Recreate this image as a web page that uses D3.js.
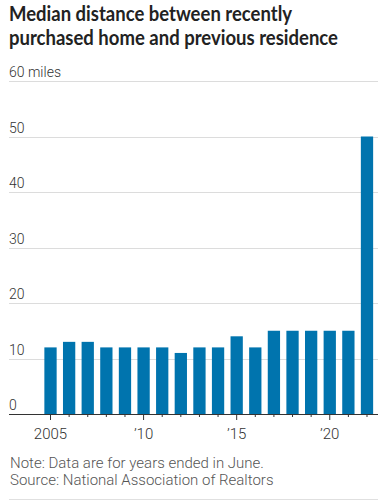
<!DOCTYPE html>
<html>
<head>
<meta charset="utf-8">
<script src="https://cdn.jsdelivr.net/npm/d3@7"></script>
<style>
  html, body { margin: 0; padding: 0; background: #fff; }
  svg { display: block; }
</style>
</head>
<body>
<svg id="chart" width="381" height="500"></svg>
<script>
const years = [2005,2006,2007,2008,2009,2010,2011,2012,2013,2014,2015,2016,2017,2018,2019,2020,2021,2022];
const distances = [12,13,13,12,12,12,12,11,12,12,14,12,15,15,15,15,15,50];
const yTicks = [0,10,20,30,40,50,60];
const xLabelYears = [2005,2010,2015,2020];
const xLabelText = ["2005","\u201910","\u201915","\u201920"];

const titleLines = ["Median distance between recently", "purchased home and previous residence"];
const titleWidths = [283, 329];
const noteLines = ["Note: Data are for years ended in June.", "Source: National Association of Realtors"];

const svg = d3.select("#chart");
const W = 381, H = 500;
const left = 9, right = 378;

const y = d3.scaleLinear().domain([0, 60]).range([414, 81]);
const x = d3.scaleBand().domain(years).range([41.2, 376.3]).paddingInner(0.34).paddingOuter(0.17);

const titleFont = "Lato, 'Noto Sans', sans-serif";
const bodyFont = "Roboto, 'Noto Sans', sans-serif";

// Title
svg.append("g").selectAll("text").data(titleLines).join("text")
  .attr("x", left).attr("y", (d,i) => 21 + i*23.5)
  .attr("font-family", titleFont).attr("font-weight", 700)
  .attr("font-size", 20).attr("fill", "#222")
  .attr("textLength", (d,i) => titleWidths[i])
  .attr("lengthAdjust", "spacingAndGlyphs")
  .text(d => d);

// Gridlines
svg.append("g").selectAll("line").data(yTicks.filter(d => d > 0)).join("line")
  .attr("x1", left).attr("x2", right)
  .attr("y1", d => Math.round(y(d)) + 0.5).attr("y2", d => Math.round(y(d)) + 0.5)
  .attr("stroke", "#dcdcdc").attr("stroke-width", 1);

// Y labels
svg.append("g").selectAll("text").data(yTicks).join("text")
  .attr("x", left).attr("y", d => y(d) - 4)
  .attr("font-family", bodyFont).attr("font-weight", 300)
  .attr("font-size", 14).attr("fill", "#333")
  .text(d => d === 60 ? "60 miles" : d);

// Bars
svg.append("g").selectAll("rect").data(years).join("rect")
  .attr("x", d => x(d))
  .attr("width", x.bandwidth())
  .attr("y", (d,i) => y(distances[i]))
  .attr("height", (d,i) => y(0) - y(distances[i]))
  .attr("fill", "#0074ae");

// X axis
const xAxis = d3.axisBottom(x).tickSize(3).tickFormat("");
const gx = svg.append("g").attr("transform", `translate(0,${y(0)})`).call(xAxis);
gx.select(".domain").remove();
gx.selectAll(".tick line").attr("stroke", "#333")
  .attr("y2", d => xLabelYears.includes(d) ? 6 : 3);
svg.append("line").attr("x1", left).attr("x2", right)
  .attr("y1", y(0)+0.5).attr("y2", y(0)+0.5).attr("stroke", "#333").attr("stroke-width", 1);

svg.append("g").selectAll("text").data(xLabelYears).join("text")
  .attr("x", d => x(d) + x.bandwidth()/2).attr("y", 439)
  .attr("text-anchor", "middle")
  .attr("font-family", bodyFont).attr("font-weight", 300)
  .attr("font-size", 15).attr("fill", "#333")
  .text((d,i) => xLabelText[i]);

// Notes
svg.append("g").selectAll("text").data(noteLines).join("text")
  .attr("x", left + 1).attr("y", (d,i) => 468 + i*16.5)
  .attr("font-family", bodyFont).attr("font-weight", 300)
  .attr("font-size", 15).attr("fill", "#555")
  .text(d => d);

svg.append("line").attr("x1", left).attr("x2", right)
  .attr("y1", 499.5).attr("y2", 499.5).attr("stroke", "#e0e0e0");
</script>
</body>
</html>
